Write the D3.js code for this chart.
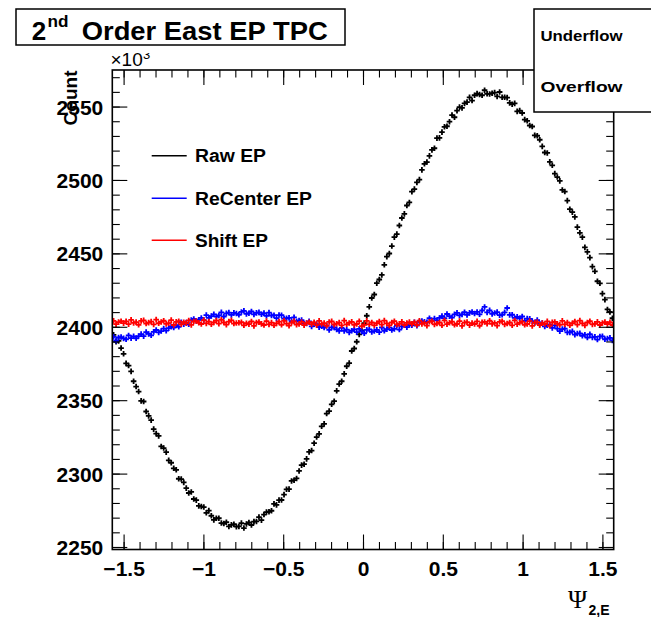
<!DOCTYPE html>
<html>
<head>
<meta charset="utf-8">
<script src="https://cdn.jsdelivr.net/npm/d3@7"></script>
<style>
  body { margin: 0; background: #fff; }
  svg { display: block; }
  text { font-family: "Liberation Sans", Arial, Helvetica, sans-serif; fill: #000; }
</style>
</head>
<body>
<svg id="chart" width="651" height="617"></svg>
<script>
// Event-plane angle distributions, 200 bins over [-pi/2, pi/2], counts in units of 10^3
const rawEP = [
  2394.5,2389.8,2390.4,2385.5,2381.6,2375.1,2373.6,2369.6,2362.9,2359.3,
  2355.9,2349.5,2349.1,2342.3,2339.3,2336.4,2330.3,2327.2,2325.7,2318.5,
  2317.4,2314.6,2309.0,2307.4,2303.6,2302.6,2296.5,2296.3,2294.0,2290.1,
  2286.8,2287.5,2282.7,2281.9,2278.0,2277.6,2277.2,2273.3,2274.8,2271.3,
  2268.5,2269.6,2269.6,2266.3,2266.0,2266.9,2264.0,2265.1,2265.5,2263.9,
  2264.0,2266.3,2262.9,2265.7,2266.7,2265.0,2267.3,2267.4,2270.4,2268.3,
  2272.1,2273.8,2274.0,2274.7,2279.4,2278.7,2281.9,2282.0,2285.7,2289.3,
  2289.4,2295.0,2295.5,2296.7,2301.8,2305.8,2306.4,2310.0,2314.8,2315.7,
  2320.7,2324.9,2327.1,2332.2,2333.9,2340.9,2342.6,2347.2,2349.3,2356.4,
  2361.0,2362.9,2367.9,2373.1,2375.3,2383.5,2385.2,2389.8,2394.8,2397.6,
  2402.5,2407.5,2413.6,2419.6,2422.0,2429.7,2432.2,2435.3,2442.2,2447.8,
  2449.9,2455.0,2461.0,2463.1,2469.0,2474.1,2476.9,2482.6,2484.7,2492.0,
  2493.8,2498.3,2500.2,2506.9,2511.0,2512.2,2516.4,2520.5,2521.6,2528.5,
  2528.7,2532.6,2536.2,2536.6,2539.7,2544.2,2542.7,2547.2,2549.6,2549.1,
  2552.2,2553.0,2556.3,2554.1,2557.7,2558.8,2558.2,2557.7,2561.1,2558.7,
  2558.6,2559.1,2559.5,2556.9,2559.9,2556.3,2556.3,2556.1,2552.5,2551.6,
  2552.2,2546.7,2547.2,2545.6,2541.1,2540.3,2537.1,2536.4,2530.4,2530.1,
  2527.4,2522.9,2518.7,2518.4,2512.3,2510.0,2504.3,2502.0,2499.4,2493.2,
  2492.1,2485.9,2480.1,2478.1,2474.8,2467.9,2464.0,2461.0,2454.1,2451.0,
  2447.1,2441.0,2437.8,2431.0,2429.6,2422.6,2418.5,2411.8,2410.1,2405.8
];
const recenterEP = [
  2393.1,2390.5,2392.7,2393.0,2392.1,2391.5,2394.1,2392.3,2393.5,2392.2,
  2393.7,2395.0,2393.6,2396.4,2395.1,2394.2,2396.5,2397.8,2396.2,2397.1,
  2398.8,2397.4,2399.1,2400.1,2399.5,2401.1,2400.0,2403.0,2401.8,2402.8,
  2401.7,2404.5,2405.3,2403.9,2404.8,2406.0,2404.6,2408.0,2406.1,2407.3,
  2408.5,2406.9,2407.7,2409.8,2407.0,2409.1,2409.7,2408.1,2409.5,2409.0,
  2408.2,2410.1,2410.9,2408.8,2409.2,2410.4,2408.4,2409.5,2409.8,2408.5,
  2409.3,2407.5,2409.7,2407.7,2407.9,2405.9,2408.0,2407.9,2405.6,2405.8,
  2406.1,2403.9,2406.4,2403.8,2404.2,2404.6,2402.2,2402.3,2403.7,2400.3,
  2401.8,2401.8,2399.7,2400.4,2399.5,2400.8,2397.9,2399.6,2399.5,2398.2,
  2397.2,2399.3,2397.2,2398.0,2396.2,2397.3,2398.2,2396.3,2398.6,2396.9,
  2395.6,2397.9,2398.3,2396.5,2397.1,2397.9,2396.3,2399.5,2397.3,2398.4,
  2399.4,2397.8,2398.6,2400.8,2398.1,2400.3,2401.0,2399.7,2401.2,2401.0,
  2403.0,2400.8,2403.3,2403.9,2403.4,2403.0,2405.8,2404.1,2405.6,2404.4,
  2406.0,2407.3,2405.9,2408.7,2407.2,2406.3,2408.5,2409.5,2407.8,2408.4,
  2409.9,2408.1,2409.5,2410.1,2409.0,2410.1,2408.5,2411.1,2413.5,2409.8,
  2411.2,2408.8,2409.4,2410.0,2407.9,2408.2,2409.8,2412.8,2408.1,2408.2,
  2406.0,2406.8,2405.8,2407.0,2404.0,2405.6,2405.4,2403.9,2402.6,2404.5,
  2402.0,2402.5,2400.3,2401.0,2401.5,2399.2,2401.0,2398.8,2397.0,2398.4,
  2398.7,2396.2,2396.2,2396.9,2394.6,2395.4,2395.5,2393.9,2394.6,2392.7,
  2394.9,2392.8,2393.1,2391.3,2393.4,2393.5,2391.5,2391.9,2392.5,2390.7
];
const shiftEP = [
  2404.0,2401.8,2403.2,2403.8,2402.5,2403.7,2401.8,2404.7,2402.6,2403.2,
  2401.4,2404.0,2404.4,2402.2,2402.8,2403.5,2401.6,2404.9,2402.4,2403.3,
  2404.1,2402.0,2402.5,2404.5,2401.2,2403.4,2403.8,2401.7,2403.1,2402.5,
  2404.3,2401.3,2403.6,2403.9,2402.7,2401.9,2404.6,2402.3,2403.5,2401.7,
  2403.0,2404.2,2402.1,2404.8,2402.9,2401.5,2403.5,2404.4,2402.2,2402.6,
  2402.7,2403.1,2401.0,2402.4,2401.8,2403.6,2400.6,2402.9,2403.2,2402.0,
  2401.2,2403.9,2401.6,2402.8,2401.0,2402.3,2403.5,2401.4,2404.1,2402.2,
  2400.8,2402.8,2403.7,2401.5,2401.9,2403.3,2401.1,2402.5,2403.1,2401.8,
  2403.0,2401.1,2404.0,2401.9,2402.5,2400.7,2403.3,2403.7,2401.5,2402.1,
  2402.8,2400.9,2404.2,2401.7,2402.6,2403.4,2401.3,2401.9,2403.8,2400.5,
  2401.3,2404.0,2401.7,2402.9,2401.0,2402.4,2403.6,2401.5,2404.2,2402.3,
  2400.9,2402.9,2403.8,2401.6,2402.0,2403.4,2401.2,2402.6,2403.2,2401.9,
  2403.1,2401.2,2404.1,2402.0,2402.6,2400.8,2403.4,2403.8,2401.6,2402.2,
  2402.9,2401.0,2404.3,2401.8,2402.7,2403.5,2401.4,2401.9,2403.9,2400.6,
  2402.8,2403.2,2401.1,2402.5,2401.9,2403.7,2400.7,2403.0,2403.3,2402.1,
  2404.1,2402.0,2402.6,2400.8,2403.4,2403.8,2401.6,2402.2,2402.9,2401.0,
  2404.3,2401.8,2402.7,2403.5,2401.4,2401.9,2403.9,2400.6,2402.8,2403.2,
  2401.1,2402.5,2401.9,2403.7,2400.7,2403.0,2403.3,2402.1,2401.3,2404.0,
  2401.7,2402.9,2401.0,2402.4,2403.6,2401.5,2404.2,2402.3,2400.9,2402.9,
  2403.8,2401.6,2402.0,2403.4,2401.2,2402.6,2403.2,2401.9,2403.1,2401.2
];

const seriesNames = ["Raw EP", "ReCenter EP", "Shift EP"];
const seriesColors = ["#000000", "#0000ff", "#ff0000"];
const xTickValues = [-1.5, -1, -0.5, 0, 0.5, 1, 1.5];
const xTickLabels = ["\u22121.5", "\u22121", "\u22120.5", "0", "0.5", "1", "1.5"];
const yTickValues = [2250, 2300, 2350, 2400, 2450, 2500, 2550];
const yTickLabels = ["2250", "2300", "2350", "2400", "2450", "2500", "2550"];

const svg = d3.select("#chart");
const frame = { left: 112.3, right: 613.7, top: 70, bottom: 549.5 };
const nBins = rawEP.length;
const halfPi = Math.PI / 2;

const x = d3.scaleLinear().domain([-halfPi, halfPi]).range([frame.left, frame.right]);
const y = d3.scaleLinear().domain([2248.3, 2574.9]).range([frame.bottom, frame.top]);
const binCenter = i => -halfPi + (i + 0.5) * (Math.PI / nBins);

svg.append("rect").attr("width", 651).attr("height", 617).attr("fill", "#fff");

// clip for the histogram points
svg.append("defs").append("clipPath").attr("id", "plotClip")
  .append("rect")
  .attr("x", frame.left).attr("y", frame.top)
  .attr("width", frame.right - frame.left).attr("height", frame.bottom - frame.top);

// histograms drawn as "+" markers with Poisson error bars
const series = [rawEP, recenterEP, shiftEP];
const plot = svg.append("g").attr("clip-path", "url(#plotClip)");
series.forEach((vals, s) => {
  plot.append("g")
    .selectAll("path")
    .data(vals)
    .join("path")
    .attr("d", (v, i) => {
      const cx = x(binCenter(i)), cy = y(v);
      const err = Math.sqrt(v * 1000) / 1000;
      const arm = 2.8;
      return `M${cx - arm},${cy}H${cx + arm}M${cx},${Math.min(y(v + err), cy - arm)}V${Math.max(y(v - err), cy + arm)}`;
    })
    .attr("fill", "none")
    .attr("stroke", seriesColors[s])
    .attr("stroke-width", 1.8);
});

// axes: ticks point into the frame on all four sides
const xMinor = d3.range(-15, 16).map(d => d / 10).filter(d => Math.abs(d) <= halfPi);
const yMinor = d3.range(2250, 2575, 10);

function styleAxis(g) {
  g.select(".domain").remove();
  g.selectAll(".tick line").attr("stroke", "#000").attr("stroke-width", 1.1);
}

svg.append("g").attr("transform", `translate(0,${frame.bottom})`)
  .call(d3.axisBottom(x).tickValues(xMinor).tickSize(-7.5).tickFormat("")).call(styleAxis);
svg.append("g").attr("transform", `translate(0,${frame.bottom})`)
  .call(d3.axisBottom(x).tickValues(xTickValues).tickSize(-15).tickPadding(10)
    .tickFormat((d, i) => xTickLabels[i]))
  .call(styleAxis)
  .call(g => g.selectAll(".tick text")
    .attr("y", 26).attr("dy", 0)
    .style("font-size", "21px").style("font-weight", "bold")
    .style("font-family", "'Liberation Sans', Arial, sans-serif").attr("fill", "#000"));

svg.append("g").attr("transform", `translate(0,${frame.top})`)
  .call(d3.axisTop(x).tickValues(xMinor).tickSize(-7.5).tickFormat("")).call(styleAxis);
svg.append("g").attr("transform", `translate(0,${frame.top})`)
  .call(d3.axisTop(x).tickValues(xTickValues).tickSize(-15).tickFormat("")).call(styleAxis);

svg.append("g").attr("transform", `translate(${frame.left},0)`)
  .call(d3.axisLeft(y).tickValues(yMinor).tickSize(-7.5).tickFormat("")).call(styleAxis);
svg.append("g").attr("transform", `translate(${frame.left},0)`)
  .call(d3.axisLeft(y).tickValues(yTickValues).tickSize(-15).tickPadding(9)
    .tickFormat((d, i) => yTickLabels[i]))
  .call(styleAxis)
  .call(g => g.selectAll(".tick text")
    .attr("dy", "0.36em")
    .style("font-size", "21px").style("font-weight", "bold")
    .style("font-family", "'Liberation Sans', Arial, sans-serif").attr("fill", "#000"));

svg.append("g").attr("transform", `translate(${frame.right},0)`)
  .call(d3.axisRight(y).tickValues(yMinor).tickSize(-7.5).tickFormat("")).call(styleAxis);
svg.append("g").attr("transform", `translate(${frame.right},0)`)
  .call(d3.axisRight(y).tickValues(yTickValues).tickSize(-15).tickFormat("")).call(styleAxis);

// frame
svg.append("rect")
  .attr("x", frame.left).attr("y", frame.top)
  .attr("width", frame.right - frame.left).attr("height", frame.bottom - frame.top)
  .attr("fill", "none").attr("stroke", "#000").attr("stroke-width", 1.6);

// y-axis multiplier (exponent partly hidden under the title area) and title
svg.append("defs").append("clipPath").attr("id", "expClip")
  .append("rect").attr("x", 140).attr("y", 53).attr("width", 30).attr("height", 20);
svg.append("text").attr("x", 110.5).attr("y", 66)
  .style("font-size", "19px").text("\u00d710");
svg.append("text").attr("x", 143).attr("y", 58.5).attr("clip-path", "url(#expClip)")
  .style("font-size", "13px").text("3");

svg.append("text")
  .attr("transform", "translate(77,70.5) rotate(-90)")
  .attr("text-anchor", "end")
  .style("font-size", "19px").style("font-weight", "bold")
  .text("Count");

// x-axis title
svg.append("text").attr("x", 568).attr("y", 608)
  .style("font-family", "'Liberation Serif', 'DejaVu Serif', serif")
  .style("font-size", "26px").text("\u03a8");
svg.append("text").attr("x", 588.5).attr("y", 615)
  .style("font-size", "14px").style("font-weight", "bold").text("2,E");

// legend
const legendY = [155.8, 198.3, 240.2];
const legendLen = [71, 117, 73];
seriesNames.forEach((name, i) => {
  svg.append("line")
    .attr("x1", 151.7).attr("x2", 186.7).attr("y1", legendY[i]).attr("y2", legendY[i])
    .attr("stroke", seriesColors[i]).attr("stroke-width", 1.5);
  svg.append("text")
    .attr("x", 195).attr("y", legendY[i] + 6.6)
    .attr("textLength", legendLen[i]).attr("lengthAdjust", "spacingAndGlyphs")
    .style("font-size", "18px").style("font-weight", "bold")
    .text(name);
});

// statistics box
svg.append("rect").attr("x", 534).attr("y", 9).attr("width", 130).attr("height", 103)
  .attr("fill", "#fff").attr("stroke", "#000").attr("stroke-width", 1.5);
[["Underflow", 40.7], ["Overflow", 91.7]].forEach(([label, by]) => {
  svg.append("text").attr("x", 540.5).attr("y", by)
    .attr("textLength", 82).attr("lengthAdjust", "spacingAndGlyphs")
    .style("font-size", "15px").style("font-weight", "bold").text(label);
});

// title box
svg.append("rect").attr("x", 16).attr("y", 9).attr("width", 329).attr("height", 36)
  .attr("fill", "#fff").attr("stroke", "#000").attr("stroke-width", 1.5);
const title = svg.append("g").style("font-weight", "bold");
title.append("text").attr("x", 31.7).attr("y", 39.5).style("font-size", "26px").text("2");
title.append("text").attr("x", 47.5).attr("y", 26.7)
  .attr("textLength", 21).attr("lengthAdjust", "spacingAndGlyphs")
  .style("font-size", "17px").text("nd");
title.append("text").attr("x", 81.7).attr("y", 39.5)
  .attr("textLength", 246).attr("lengthAdjust", "spacingAndGlyphs")
  .style("font-size", "26px").text("Order East EP TPC");
</script>
</body>
</html>
